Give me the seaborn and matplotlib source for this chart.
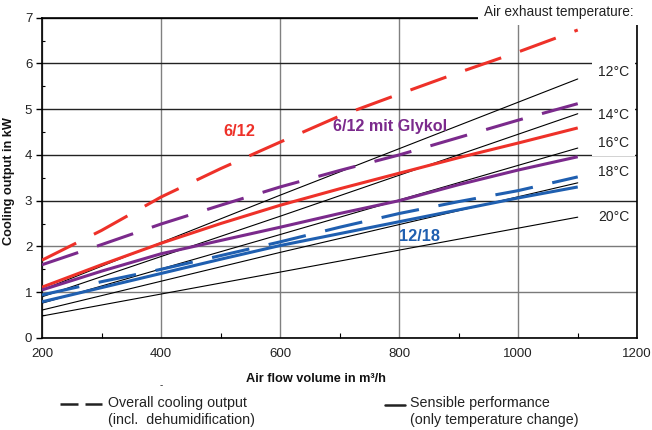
import pandas as pd
import matplotlib
matplotlib.use('Agg')
import matplotlib.pyplot as plt
import matplotlib.ticker as ticker
from matplotlib.lines import Line2D
import seaborn as sns

# Air flow volume in m3/h
airflow = [200, 300, 400, 500, 600, 700, 800, 900, 1000, 1100]

# Cooling output in kW, overall (dashed) and sensible (solid)
red_total = [1.70, 2.35, 3.08, 3.70, 4.28, 4.85, 5.33, 5.80, 6.25, 6.73]
red_sensible = [1.11, 1.60, 2.07, 2.50, 2.90, 3.26, 3.60, 3.94, 4.26, 4.59]
glykol_total = [1.60, 2.04, 2.49, 2.90, 3.30, 3.66, 4.00, 4.38, 4.76, 5.12]
glykol_sensible = [1.05, 1.46, 1.84, 2.13, 2.42, 2.72, 3.00, 3.35, 3.67, 3.96]
blue_total = [0.94, 1.23, 1.50, 1.80, 2.10, 2.42, 2.72, 2.98, 3.22, 3.52]
blue_sensible = [0.79, 1.10, 1.41, 1.72, 2.02, 2.28, 2.54, 2.80, 3.06, 3.30]

# Thin reference lines per air exhaust temperature
temp_airflow = [200, 600, 1100]
temp_12 = [1.05, 3.12, 5.66]
temp_14 = [0.90, 2.66, 4.90]
temp_16 = [0.76, 2.26, 4.15]
temp_18 = [0.61, 1.87, 3.39]
temp_20 = [0.48, 1.44, 2.64]
temp_names = ['12°C', '14°C', '16°C', '18°C', '20°C']

RED = '#EE3129'
PURPLE = '#7B2A8C'
BLUE = '#1F5FB0'

# long format table for seaborn
rows = []
for name, kind, vals in [('6/12', 'total', red_total), ('6/12', 'sensible', red_sensible),
                         ('Glykol', 'total', glykol_total), ('Glykol', 'sensible', glykol_sensible),
                         ('12/18', 'total', blue_total), ('12/18', 'sensible', blue_sensible)]:
    for x, y in zip(airflow, vals):
        rows.append({'airflow': x, 'kw': y, 'series': name + ' ' + kind, 'kind': kind})
df = pd.DataFrame(rows)

palette = {'6/12 total': RED, '6/12 sensible': RED,
           'Glykol total': PURPLE, 'Glykol sensible': PURPLE,
           '12/18 total': BLUE, '12/18 sensible': BLUE}

temp_rows = []
for name, vals in zip(temp_names, [temp_12, temp_14, temp_16, temp_18, temp_20]):
    for x, y in zip(temp_airflow, vals):
        temp_rows.append({'airflow': x, 'kw': y, 'temp': name})
df_temp = pd.DataFrame(temp_rows)

sns.set_theme(style='white')
plt.rcParams['font.family'] = ['Liberation Sans', 'DejaVu Sans']

fig = plt.figure(figsize=(6.52, 4.30), dpi=100)
ax = fig.add_axes([0.0644, 0.214, 0.913, 0.745])

# thin sensible lines per exhaust temperature
sns.lineplot(data=df_temp, x='airflow', y='kw', units='temp', estimator=None,
             color='black', linewidth=0.8, legend=False, ax=ax, zorder=2)

# coloured performance curves
sns.lineplot(data=df, x='airflow', y='kw', hue='series', style='kind',
             palette=palette, dashes={'total': (12.5, 6.5), 'sensible': (1, 0)},
             linewidth=2.2, legend=False, ax=ax, zorder=3)

ax.set_xlim(200, 1200)
ax.set_ylim(0, 7)
ax.xaxis.set_major_locator(ticker.MultipleLocator(200))
ax.xaxis.set_minor_locator(ticker.MultipleLocator(100))
ax.yaxis.set_major_locator(ticker.MultipleLocator(1))
ax.yaxis.set_minor_locator(ticker.MultipleLocator(0.5))

ax.set_axisbelow(True)
ax.grid(True, axis='x', which='major', color='#808080', linewidth=1.0)
ax.grid(True, axis='y', which='major', color='#222222', linewidth=1.0)
for val, gl in zip(ax.get_yticks(), ax.get_ygridlines()):
    if val in (1, 2):
        gl.set_color('#7a7a7a')

ax.tick_params(axis='y', which='major', direction='out', length=4, width=1,
               color='black', labelsize=9.5, pad=3, left=True)
ax.tick_params(axis='y', which='minor', direction='in', length=2.5, width=0.8,
               color='black', left=True)
ax.tick_params(axis='x', which='major', direction='out', length=0, labelsize=9.5, pad=7)
ax.tick_params(axis='x', which='minor', direction='in', length=3.5, width=0.8,
               color='black', bottom=True)
for lab in ax.get_xticklabels() + ax.get_yticklabels():
    lab.set_color('#222222')

for sp in ax.spines.values():
    sp.set_color('black')
    sp.set_linewidth(1.2)

ax.set_xlabel('Air flow volume in m³/h', fontsize=9.2, fontweight='bold', color='#111111')
ax.set_ylabel('Cooling output in kW', fontsize=9.2, fontweight='bold', color='#111111')
ax.xaxis.set_label_coords(0.46, -0.11)
ax.yaxis.set_label_coords(-0.046, 0.49)

# temperature labels on the right
for name, ypos in zip(temp_names, [5.81, 4.87, 4.26, 3.63, 2.64]):
    ax.text(1160, ypos, name, ha='center', va='center', fontsize=10, color='#222222',
            bbox=dict(boxstyle='square,pad=0.4', fc='white', ec='none'), zorder=5)

ax.text(1194, 7.12, 'Air exhaust temperature:', ha='right', va='center', fontsize=9.8,
        color='#222222', clip_on=False, zorder=6,
        bbox=dict(boxstyle='square,pad=0.45', fc='white', ec='none'))

# series labels
ax.text(531, 4.52, '6/12', color=RED, fontsize=11.8, fontweight='bold', ha='center', va='center')
ax.text(785, 4.63, '6/12 mit Glykol', color=PURPLE, fontsize=11.6, fontweight='bold',
        ha='center', va='center')
ax.text(834, 2.22, '12/18', color=BLUE, fontsize=11.8, fontweight='bold', ha='center', va='center')

fig.text(161 / 652, 1 - 385 / 430, '-', fontsize=7, ha='center', va='center', color='#222222')

# legend keys at the bottom
fig.add_artist(Line2D([60 / 652, 102 / 652], [1 - 404 / 430] * 2, color='#222222',
                      linewidth=1.8, dashes=(7.2, 2.8)))
fig.text(108 / 652, 1 - 396 / 430, 'Overall cooling output\n(incl.  dehumidification)',
         fontsize=10.3, va='top', ha='left', color='#222222', linespacing=1.25)
fig.add_artist(Line2D([385 / 652, 405 / 652], [1 - 405 / 430] * 2, color='#222222',
                      linewidth=1.8))
fig.text(410 / 652, 1 - 396 / 430, 'Sensible performance\n(only temperature change)',
         fontsize=10.3, va='top', ha='left', color='#222222', linespacing=1.25)

fig.savefig('out.png', dpi=100)
